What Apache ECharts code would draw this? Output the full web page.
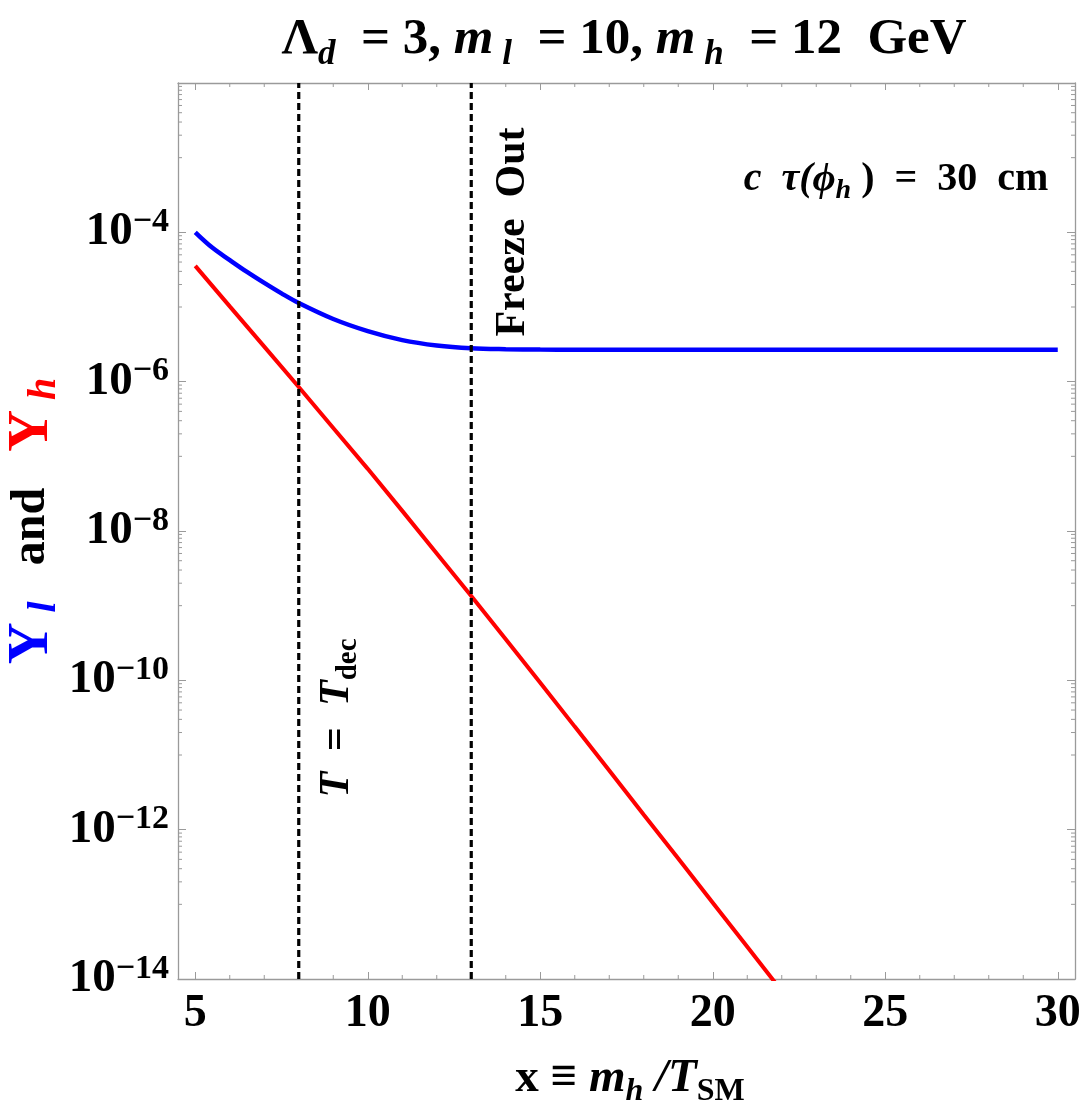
<!DOCTYPE html>
<html>
<head>
<meta charset="utf-8">
<script src="https://cdn.jsdelivr.net/npm/echarts@6/dist/echarts.min.js"></script>
<style>
html,body{margin:0;padding:0;background:#fff;}
#chart{width:1084px;height:1103px;}
</style>
</head>
<body>
<div id="chart"></div>
<script>
// ---- data ----
const blueX = [5, 5.5, 6, 6.5, 7, 7.5, 8, 9, 10, 11, 12, 13, 14, 15, 16, 18, 20, 22, 25, 28, 30];
const blueY = [1.0e-4, 6.2e-5, 4.25e-5, 2.95e-5, 2.1e-5, 1.52e-5, 1.13e-5, 6.9e-6, 4.75e-6, 3.6e-6, 3.05e-6, 2.8e-6, 2.72e-6, 2.69e-6, 2.68e-6, 2.68e-6, 2.68e-6, 2.68e-6, 2.68e-6, 2.68e-6, 2.68e-6];
const redX = [5, 6, 7, 8, 9, 10, 11, 12, 13, 14, 15, 16, 17, 18, 19, 20, 21, 22];
const redY = [3.55e-5, 1.02e-5, 2.95e-6, 8.5e-7, 2.4e-7, 6.8e-8, 1.86e-8, 5.0e-9, 1.35e-9, 3.55e-10, 9.3e-11, 2.4e-11, 6.2e-12, 1.58e-12, 4.1e-13, 1.05e-13, 2.7e-14, 6.9e-15];
const tDecX = 8;
const freezeX = 13;
const xTickValues = [5, 10, 15, 20, 25, 30];
const xMinorTickValues = [6,7,8,9,11,12,13,14,16,17,18,19,21,22,23,24,26,27,28,29];
const yLabelExponents = [-14, -12, -10, -8, -6, -4, -2];
const xRange = [4.5, 30.5];
const yRange = [1e-14, 1e-2];

// minor ticks on the y axis: in the decade just below each labelled power
const yMinorTickValues = [];
yLabelExponents.forEach(e => {
  for (let m = 1; m <= 9; m++) {
    const v = m * Math.pow(10, e - 1);
    if (v >= yRange[0] && v <= yRange[1]) yMinorTickValues.push(v);
  }
});

const serif = '"Liberation Serif", "Times New Roman", serif';
const axisGray = '#9a9a9a';

const chart = echarts.init(document.getElementById('chart'), null, {renderer: 'canvas'});

function supLabel(v) {
  const e = Math.round(Math.log10(v));
  if (e === -2) return '';
  return '{b|10}{s|' + (e < 0 ? '\u2212' + (-e) : e) + '}';
}

const gridL = 178, gridR = 9, gridT = 83, gridB = 124;

function T(size, opts) {
  return Object.assign({fontFamily: serif, fontWeight: 'bold', fontSize: size, fill: '#000', verticalAlign: 'middle'}, opts || {});
}

const option = {
  animation: false,
  backgroundColor: '#ffffff',
  grid: {left: gridL, right: gridR, top: gridT, bottom: gridB, containLabel: false},
  xAxis: [
    {
      type: 'value', min: xRange[0], max: xRange[1], position: 'bottom',
      axisLine: {show: true, onZero: false, lineStyle: {color: axisGray, width: 1.3}},
      axisTick: {show: true, inside: true, length: 7, customValues: xTickValues, lineStyle: {color: axisGray}},
      axisLabel: {
        customValues: xTickValues, margin: 12, color: '#000',
        fontFamily: serif, fontWeight: 'bold', fontSize: 46, lineHeight: 46
      },
      splitLine: {show: false}
    },
    {
      type: 'value', min: xRange[0], max: xRange[1], position: 'top',
      axisLine: {show: true, onZero: false, lineStyle: {color: axisGray, width: 1.3}},
      axisTick: {show: true, inside: true, length: 7, customValues: xTickValues, lineStyle: {color: axisGray}},
      axisLabel: {show: false},
      splitLine: {show: false}
    }
  ],
  yAxis: [
    {
      type: 'log', min: yRange[0], max: yRange[1], interval: 2, position: 'left',
      axisLine: {show: true, onZero: false, lineStyle: {color: axisGray, width: 1.3}},
      axisTick: {show: true, inside: true, length: 8, lineStyle: {color: axisGray}},
      axisLabel: {
        margin: 9, color: '#000',
        formatter: supLabel,
        rich: {
          b: {fontFamily: serif, fontWeight: 'bold', fontSize: 47, lineHeight: 54, verticalAlign: 'middle', color: '#000'},
          s: {fontFamily: serif, fontWeight: 'bold', fontSize: 34, lineHeight: 30, verticalAlign: 'top', color: '#000'}
        }
      },
      minorTick: {show: false},
      splitLine: {show: false}
    },
    {
      type: 'log', min: yRange[0], max: yRange[1], interval: 2, position: 'right',
      axisLine: {show: true, onZero: false, lineStyle: {color: axisGray, width: 1.3}},
      axisTick: {show: true, inside: true, length: 8, lineStyle: {color: axisGray}},
      axisLabel: {show: false},
      splitLine: {show: false}
    }
  ],
  series: [
    {
      type: 'custom', name: 'yMinorTicks', xAxisIndex: 0, yAxisIndex: 0, silent: true, z: 1,
      data: yMinorTickValues.map(v => [xRange[0], v]),
      encode: {x: 0, y: 1},
      renderItem: function (params, api) {
        const v = api.value(1);
        const pL = api.coord([xRange[0], v]);
        const pR = api.coord([xRange[1], v]);
        return {type: 'group', children: [
          {type: 'line', shape: {x1: pL[0], y1: pL[1], x2: pL[0] + 4, y2: pL[1]}, style: {stroke: axisGray, lineWidth: 1}},
          {type: 'line', shape: {x1: pR[0], y1: pR[1], x2: pR[0] - 4, y2: pR[1]}, style: {stroke: axisGray, lineWidth: 1}}
        ]};
      }
    },
    {
      type: 'custom', name: 'xMinorTicks', xAxisIndex: 0, yAxisIndex: 0, silent: true, z: 1,
      data: xMinorTickValues.map(v => [v, yRange[0]]),
      encode: {x: 0, y: 1},
      renderItem: function (params, api) {
        const v = api.value(0);
        const pB = api.coord([v, yRange[0]]);
        const pT = api.coord([v, yRange[1]]);
        return {type: 'group', children: [
          {type: 'line', shape: {x1: pB[0], y1: pB[1], x2: pB[0], y2: pB[1] - 4}, style: {stroke: axisGray, lineWidth: 1}},
          {type: 'line', shape: {x1: pT[0], y1: pT[1], x2: pT[0], y2: pT[1] + 4}, style: {stroke: axisGray, lineWidth: 1}}
        ]};
      }
    },
    {
      type: 'line', name: 'Yh', xAxisIndex: 0, yAxisIndex: 0, z: 3,
      data: redX.map((x, i) => [x, redY[i]]),
      showSymbol: false, symbol: 'none', clip: true,
      lineStyle: {color: '#ff0000', width: 4}
    },
    {
      type: 'line', name: 'Yl', xAxisIndex: 0, yAxisIndex: 0, z: 3,
      data: blueX.map((x, i) => [x, blueY[i]]),
      showSymbol: false, symbol: 'none', smooth: 0.35, clip: true,
      lineStyle: {color: '#0000ff', width: 4.5}
    },
    {
      type: 'line', name: 'Tdec', xAxisIndex: 0, yAxisIndex: 0, z: 4,
      data: [[tDecX, yRange[0]], [tDecX, yRange[1]]],
      showSymbol: false, symbol: 'none',
      lineStyle: {color: '#000', width: 3.2, type: [7, 4]}
    },
    {
      type: 'line', name: 'Freeze', xAxisIndex: 0, yAxisIndex: 0, z: 4,
      data: [[freezeX, yRange[0]], [freezeX, yRange[1]]],
      showSymbol: false, symbol: 'none',
      lineStyle: {color: '#000', width: 3.2, type: [7, 4]}
    }
  ],
  graphic: [
    { // title
      type: 'text', z: 10, x: 624, y: 40,
      style: {
        align: 'center', verticalAlign: 'middle',
        text: '{b|\u039B}{si|d}{b|  = 3, }{i|m}{si| l}{b|  = 10, }{i|m}{si| h}{b|  = 12  GeV}',
        rich: {
          b: T(51, {lineHeight: 64}),
          i: T(51, {fontStyle: 'italic', lineHeight: 64}),
          si: T(35, {fontStyle: 'italic', lineHeight: 36, verticalAlign: 'bottom'})
        }
      }
    },
    { // x axis title
      type: 'text', z: 10, x: 630, y: 1079,
      style: {
        align: 'center', verticalAlign: 'middle',
        text: '{b|x \u2261 }{i|m}{si|h}{i| /T}{sb|SM}',
        rich: {
          b: T(47, {lineHeight: 58}),
          i: T(47, {fontStyle: 'italic', lineHeight: 58}),
          si: T(32, {fontStyle: 'italic', lineHeight: 38, verticalAlign: 'bottom'}),
          sb: T(32, {lineHeight: 38, verticalAlign: 'bottom'})
        }
      }
    },
    { // y axis title
      type: 'text', z: 10, x: 32, y: 521, rotation: Math.PI / 2,
      style: {
        align: 'center', verticalAlign: 'middle',
        text: '{Yb|Y}{sb| l}{a|   and   }{Yr|Y}{sr| h}',
        rich: {
          Yb: T(58, {lineHeight: 66, fill: '#0000ff'}),
          sb: T(40, {fontStyle: 'italic', lineHeight: 42, verticalAlign: 'bottom', fill: '#0000ff'}),
          a: T(48, {lineHeight: 66}),
          Yr: T(58, {lineHeight: 66, fill: '#ff0000'}),
          sr: T(40, {fontStyle: 'italic', lineHeight: 42, verticalAlign: 'bottom', fill: '#ff0000'})
        }
      }
    },
    { // lifetime annotation
      type: 'text', z: 10, x: 896, y: 180,
      style: {
        align: 'center', verticalAlign: 'middle',
        text: '{i|c  \u03C4(\u03D5}{si|h}{b| )  =  30  cm}',
        rich: {
          b: T(40, {lineHeight: 50}),
          i: T(40, {fontStyle: 'italic', lineHeight: 50}),
          si: T(28, {fontStyle: 'italic', lineHeight: 30, verticalAlign: 'bottom'})
        }
      }
    },
    { // T = T_dec
      type: 'text', z: 10, x: 337, y: 718, rotation: Math.PI / 2,
      style: {
        align: 'center', verticalAlign: 'middle',
        text: '{i|T}{b|  =  }{i|T}{sb|dec}',
        rich: {
          b: T(42, {lineHeight: 52}),
          i: T(42, {fontStyle: 'italic', lineHeight: 52}),
          sb: T(29, {lineHeight: 32, verticalAlign: 'bottom'})
        }
      }
    },
    { // Freeze Out
      type: 'text', z: 10, x: 513, y: 232, rotation: Math.PI / 2,
      style: {
        align: 'center', verticalAlign: 'middle',
        text: 'Freeze  Out',
        fontFamily: serif, fontWeight: 'bold', fontSize: 42, fill: '#000'
      }
    }
  ]
};

chart.setOption(option);
</script>
</body>
</html>
